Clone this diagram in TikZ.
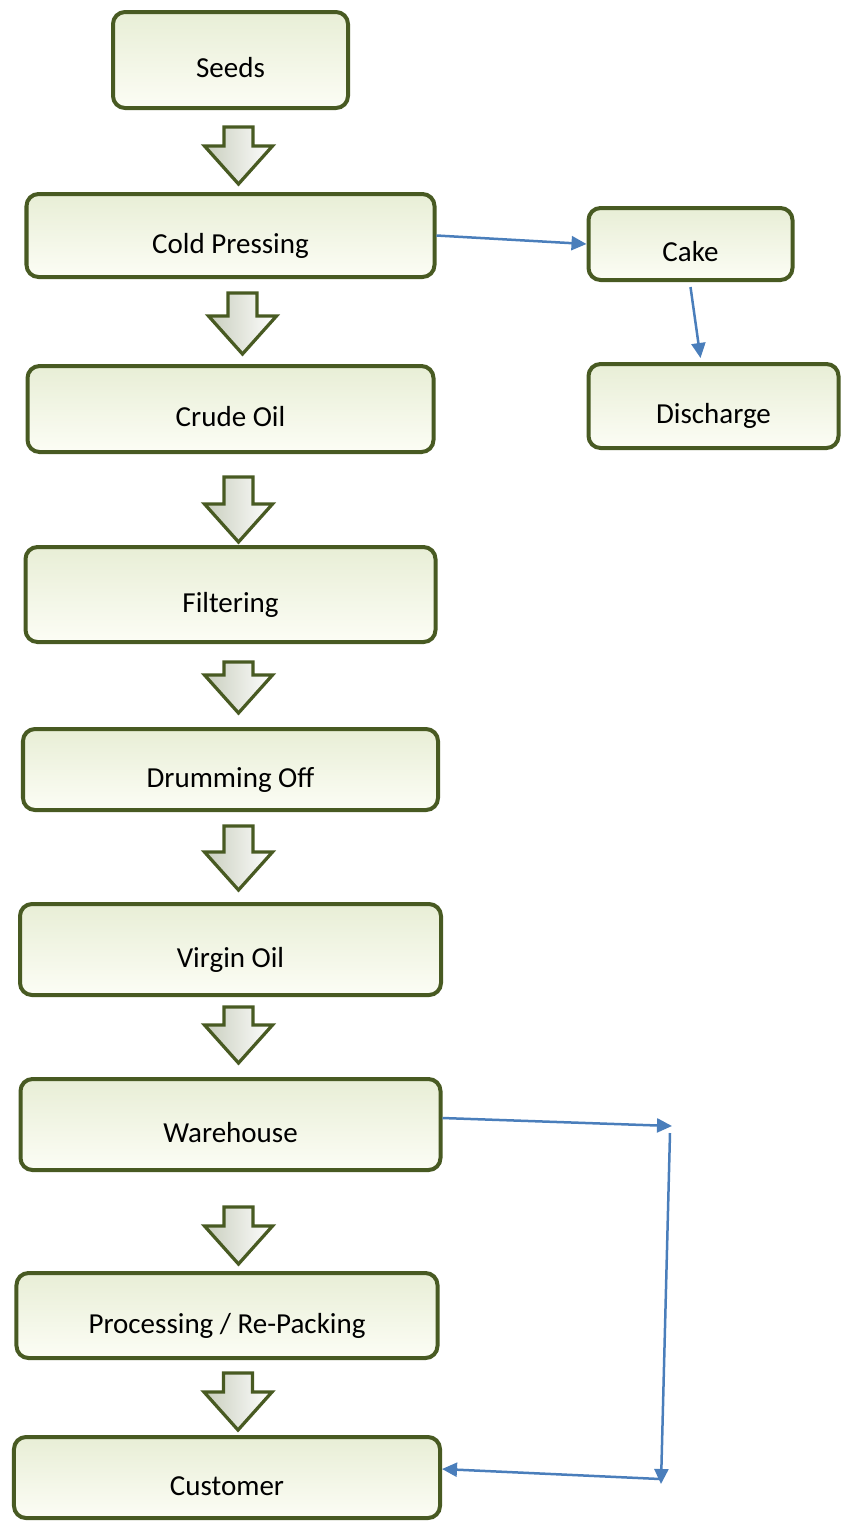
\documentclass[tikz,border=0pt]{standalone}
\usepackage{fontspec}
\setmainfont{Carlito}
\usepackage{tikz}
\usetikzlibrary{arrows.meta, positioning}
\definecolor{boxline}{HTML}{485A22}
\definecolor{boxtop}{HTML}{E8EED6}
\definecolor{boxbottom}{HTML}{FCFDF5}
\definecolor{linkblue}{HTML}{4A7EBB}
\tikzset{
    block/.style={rectangle, rounded corners=0.24cm, draw=boxline, line width=0.08cm, top color=boxtop, bottom color=boxbottom, text centered, text height=20pt, text depth=0pt, font=\fontsize{16.5}{20}\selectfont},
    arrow/.style={draw=linkblue, line width=0.05cm, -{Triangle[length=0.3cm, width=0.28cm]}},
    % block arrow, tip at the pic origin, #1 = total length
    blockarrow/.pic={
        \draw[draw=boxline, line width=0.065cm, line join=miter, left color=boxline!30!white, right color=white]
            (0,0) -- (-0.68,0.76) -- (-0.29,0.76) -- (-0.29,#1) -- (0.29,#1) -- (0.29,0.76) -- (0.68,0.76) -- cycle;
    }
}
\begin{document}
\begin{tikzpicture}[node distance=1.6cm and 3cm]
    \useasboundingbox (0,0) rectangle (16.82,-30.44);
    % Main column
    \node (seeds) [block, minimum width=4.7cm, minimum height=1.92cm] at (4.61,-1.2) {Seeds};
    \node (cold_press) [block, minimum width=8.16cm, minimum height=1.66cm, below=1.64cm of seeds] {Cold Pressing};
    \node (crude_oil) [block, minimum width=8.12cm, minimum height=1.72cm, below=1.7cm of cold_press] {Crude Oil};
    \node (filtering) [block, minimum width=8.2cm, minimum height=1.9cm, below=1.82cm of crude_oil] {Filtering};
    \node (drumming_off) [block, minimum width=8.3cm, minimum height=1.62cm, below=1.66cm of filtering] {Drumming Off};
    \node (virgin_oil) [block, minimum width=8.42cm, minimum height=1.82cm, below=1.8cm of drumming_off] {Virgin Oil};
    \node (warehouse) [block, minimum width=8.4cm, minimum height=1.82cm, below=1.6cm of virgin_oil] {Warehouse};
    \node (processing) [block, minimum width=8.42cm, minimum height=1.7cm, below=1.98cm of warehouse, xshift=-0.07cm] {Processing / Re-Packing};
    \node (customer) [block, minimum width=8.52cm, minimum height=1.62cm, below=1.5cm of processing] {Customer};
    % Side branch
    \node (cake) [block, minimum width=4.08cm, minimum height=1.44cm, right=of cold_press, yshift=-0.17cm] {Cake};
    \node (discharge) [block, minimum width=5cm, minimum height=1.68cm, below=of cake, xshift=0.46cm] {Discharge};
    % Block arrows
    \pic at ([xshift=0.16cm, yshift=0.16cm]cold_press.north) {blockarrow=1.14};
    \pic at ([xshift=0.24cm, yshift=0.2cm]crude_oil.north) {blockarrow=1.22};
    \pic at ([xshift=0.16cm, yshift=0.06cm]filtering.north) {blockarrow=1.3};
    \pic at ([xshift=0.16cm, yshift=0.28cm]drumming_off.north) {blockarrow=1.02};
    \pic at ([xshift=0.16cm, yshift=0.24cm]virgin_oil.north) {blockarrow=1.28};
    \pic at ([xshift=0.16cm, yshift=0.28cm]warehouse.north) {blockarrow=1.12};
    \pic at ([xshift=0.23cm, yshift=0.14cm]processing.north) {blockarrow=1.14};
    \pic at ([xshift=0.22cm, yshift=0.1cm]customer.north) {blockarrow=1.14};
    % Return path
    \coordinate (ret_top) at (13.44,-22.52);
    \coordinate (ret_top_b) at (13.40,-22.66);
    \coordinate (ret_bottom) at (13.22,-29.68);
    \coordinate (ret_bottom_b) at (13.20,-29.58);
    % Arrows
    \draw [arrow] (cold_press.east) -- (cake.west);
    \draw [arrow] ([yshift=-0.1cm]cake.south) -- ([xshift=-0.26cm, yshift=0.08cm]discharge.north);
    \draw [arrow] ([yshift=0.13cm]warehouse.east) -- (ret_top);
    \draw [arrow] (ret_top_b) -- (ret_bottom);
    \draw [arrow] (ret_bottom_b) -- ([yshift=0.17cm]customer.east);
\end{tikzpicture}
\end{document}
